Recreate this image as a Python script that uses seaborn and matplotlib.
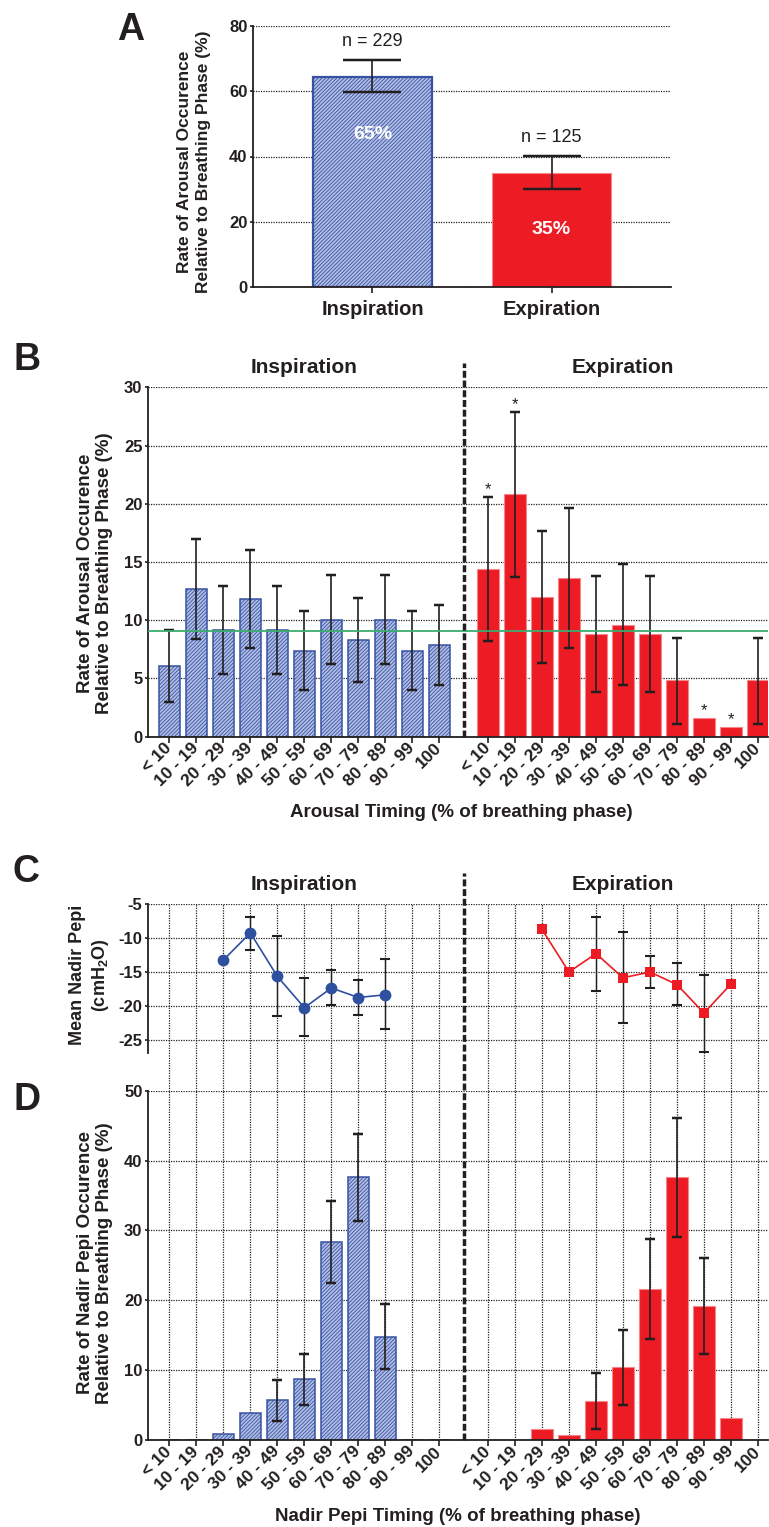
import numpy as np
import pandas as pd
import matplotlib
matplotlib.use("Agg")
import matplotlib.pyplot as plt
import seaborn as sns

nan = np.nan

# ---------------- data ----------------
phases = ["Inspiration", "Expiration"]
overall_rate = [64.4, 35.0]
overall_lo = [59.6, 30.2]
overall_hi = [69.5, 40.2]
overall_n = ["n = 229", "n = 125"]
overall_pct = ["65%", "35%"]

timing_bins = ["< 10", "10 - 19", "20 - 29", "30 - 39", "40 - 49", "50 - 59",
               "60 - 69", "70 - 79", "80 - 89", "90 - 99", "100"]

arousal_insp = [6.1, 12.7, 9.2, 11.8, 9.2, 7.4, 10.0, 8.3, 10.0, 7.4, 7.9]
arousal_insp_lo = [3.0, 8.4, 5.4, 7.6, 5.4, 4.0, 6.2, 4.7, 6.2, 4.0, 4.4]
arousal_insp_hi = [9.2, 17.0, 12.9, 16.0, 12.9, 10.8, 13.9, 11.9, 13.9, 10.8, 11.3]
arousal_exp = [14.4, 20.8, 12.0, 13.6, 8.85, 9.6, 8.85, 4.84, 1.63, 0.83, 4.84]
arousal_exp_lo = [8.2, 13.7, 6.3, 7.6, 3.8, 4.4, 3.8, 1.1, nan, nan, 1.1]
arousal_exp_hi = [20.6, 27.9, 17.7, 19.6, 13.8, 14.8, 13.8, 8.5, nan, nan, 8.5]
arousal_exp_significant = [True, True, False, False, False, False, False, False, True, True, False]
arousal_expected = 9.1

pepi_insp = [nan, nan, -13.2, -9.2, -15.6, -20.2, -17.3, -18.7, -18.3, nan, nan]
pepi_insp_lo = [nan, nan, nan, -11.7, -21.4, -24.3, -19.85, -21.2, -23.4, nan, nan]
pepi_insp_hi = [nan, nan, nan, -6.8, -9.6, -15.9, -14.7, -16.2, -13.1, nan, nan]
pepi_exp = [nan, nan, -8.7, -14.95, -12.25, -15.8, -14.95, -16.8, -21.0, -16.7, nan]
pepi_exp_lo = [nan, nan, nan, nan, -17.7, -22.45, -17.25, -19.85, -26.7, nan, nan]
pepi_exp_hi = [nan, nan, nan, nan, -6.9, -9.0, -12.65, -13.7, -15.4, nan, nan]

nadir_insp = [0, 0, 0.81, 3.86, 5.68, 8.68, 28.4, 37.6, 14.8, 0, 0]
nadir_insp_lo = [nan, nan, nan, nan, 2.67, 5.06, 22.5, 31.3, 10.2, nan, nan]
nadir_insp_hi = [nan, nan, nan, nan, 8.64, 12.35, 34.2, 43.8, 19.5, nan, nan]
nadir_exp = [0, 0, 1.57, 0.76, 5.58, 10.45, 21.6, 37.6, 19.2, 3.2, 0]
nadir_exp_lo = [nan, nan, nan, nan, 1.57, 5.0, 14.4, 29.1, 12.3, nan, nan]
nadir_exp_hi = [nan, nan, nan, nan, 9.6, 15.8, 28.8, 46.1, 26.1, nan, nan]

# ---------------- style ----------------
INK = "#231f20"
BLUE_EDGE = "#3653a3"
BLUE_FACE = "#b3bee4"
BLUE_MARK = "#2f4f9f"
RED = "#ed1c24"
RED_EDGE = "#f3878b"
GREEN = "#3aad6e"
GRID = dict(linestyle=(0, (1, 1)), color="#222222", linewidth=0.9)

sns.set_theme(style="white")
plt.rcParams["font.family"] = ["Liberation Sans", "DejaVu Sans"]
plt.rcParams["mathtext.fontset"] = "custom"
plt.rcParams["mathtext.rm"] = "Liberation Sans:bold"
plt.rcParams["mathtext.bf"] = "Liberation Sans:bold"
plt.rcParams["mathtext.it"] = "Liberation Sans:bold"
plt.rcParams["hatch.linewidth"] = 0.6
plt.rcParams["text.color"] = INK

W, H = 769, 1527
fig = plt.figure(figsize=(W / 100, H / 100), dpi=100)


def add_ax(l, r, t, b):
    return fig.add_axes([l / W, 1 - b / H, (r - l) / W, (b - t) / H])


def base_style(ax, yticks):
    for s in ["top", "right"]:
        ax.spines[s].set_visible(False)
    for s in ["left", "bottom"]:
        ax.spines[s].set_color(INK)
        ax.spines[s].set_linewidth(1.3)
    ax.set_axisbelow(True)
    ax.set_yticks(yticks)
    ax.set_yticklabels([f"{v:g}" for v in yticks], fontsize=12, fontweight="bold", color=INK)
    ax.tick_params(axis="y", direction="out", length=2.5, width=1.2, pad=1.5, colors=INK, left=True)
    ax.yaxis.grid(True, **GRID)
    ax.set_facecolor("none")


def hatch_patches(patches):
    for p in patches:
        p.set_facecolor(BLUE_FACE)
        p.set_edgecolor(BLUE_EDGE)
        p.set_hatch("/////////")
        p.set_linewidth(1.1)


def red_patches(patches):
    for p in patches:
        p.set_facecolor(RED)
        p.set_edgecolor(RED_EDGE)
        p.set_linewidth(0.8)


def errbars(ax, pos, vals, lo, hi, capsize, lw=1.2):
    pos = np.asarray(pos, float)
    v = np.asarray(vals, float)
    lo = np.asarray(lo, float)
    hi = np.asarray(hi, float)
    m = ~np.isnan(lo)
    ax.errorbar(pos[m], v[m], yerr=[v[m] - lo[m], hi[m] - v[m]], fmt="none",
                ecolor=INK, elinewidth=lw, capsize=capsize, capthick=lw * 1.5, zorder=5)


def phase_bars(ax, pos, vals, hatched):
    n0 = len(ax.patches)
    sns.barplot(x=pos, y=vals, native_scale=True, orient="x", color=RED,
                width=0.78, errorbar=None, saturation=1, ax=ax)
    new = ax.patches[n0:]
    if hatched:
        hatch_patches(new)
    else:
        red_patches(new)


ins_pos = np.arange(len(timing_bins), dtype=float)
exp_pos = ins_pos + 11.8
all_pos = np.concatenate([ins_pos, exp_pos])
sep_x = 10.9
XL = (-0.79, 22.17)


def timing_xaxis(ax, labels=True):
    ax.set_xlim(*XL)
    ax.set_xticks(all_pos)
    if labels:
        ax.set_xticklabels(timing_bins * 2, rotation=45, ha="right", va="center",
                           rotation_mode="anchor", fontsize=12.5, fontweight="bold", color=INK)
        ax.tick_params(axis="x", direction="out", length=4, width=1.2, pad=2.5, colors=INK, bottom=True)
    else:
        ax.tick_params(axis="x", length=0, labelbottom=False)
    ax.set_xlabel("")


# ---------------- Panel A ----------------
axA = add_ax(253, 671, 25.7, 287.3)
dfA = pd.DataFrame({"phase": phases, "rate": overall_rate})
sns.barplot(data=dfA, x="phase", y="rate", hue="phase", palette=[BLUE_FACE, RED],
            width=0.66, errorbar=None, saturation=1, legend=False, ax=axA)
hatch_patches(axA.patches[:1])
red_patches(axA.patches[1:2])
axA.patches[0].set_linewidth(1.6)
errbars(axA, [0, 1], overall_rate, overall_lo, overall_hi, capsize=21, lw=1.2)
base_style(axA, [0, 20, 40, 60, 80])
axA.set_ylim(0, 80)
axA.set_xlim(-0.667, 1.667)
axA.set_xticks([0, 1])
axA.set_xticklabels(phases, fontsize=14.5, fontweight="bold", color=INK)
axA.tick_params(axis="x", direction="out", length=4, width=1.2, pad=5, colors=INK, bottom=True)
axA.set_xlabel("")
axA.set_ylabel("Rate of Arousal Occurence\nRelative to Breathing Phase (%)",
               fontsize=12.5, fontweight="bold", va="center", linespacing=1.4, color=INK)
axA.yaxis.set_label_coords(-0.141, 0.48)
for i, (txt, hi) in enumerate(zip(overall_n, overall_hi)):
    axA.annotate(txt, xy=(i, hi), xytext=(0, 10), textcoords="offset points",
                 ha="center", va="baseline", fontsize=13, color=INK)
for i, (txt, ypos) in enumerate(zip(overall_pct, [46.6, 17.8])):
    axA.text(i, ypos, txt, ha="center", va="center", fontsize=14, fontweight="bold",
             color="white", zorder=6)

# ---------------- Panel B ----------------
axB = add_ax(148, 768, 387.3, 736.7)
phase_bars(axB, ins_pos, arousal_insp, True)
phase_bars(axB, exp_pos, arousal_exp, False)
errbars(axB, ins_pos, arousal_insp, arousal_insp_lo, arousal_insp_hi, capsize=3.3)
errbars(axB, exp_pos, arousal_exp, arousal_exp_lo, arousal_exp_hi, capsize=3.3)
axB.axhline(arousal_expected, color=GREEN, lw=1.3, zorder=6)
for i, sig in enumerate(arousal_exp_significant):
    if sig:
        top = np.nanmax([arousal_exp[i], arousal_exp_hi[i]])
        axB.annotate("*", xy=(exp_pos[i], top), xytext=(0, 2), textcoords="offset points",
                     ha="center", va="baseline", fontsize=12, color=INK)
base_style(axB, [0, 5, 10, 15, 20, 25, 30])
axB.set_ylim(0, 30)
timing_xaxis(axB)
axB.axvline(sep_x, ymin=0, ymax=1.07, color=INK, lw=2.5, linestyle=(0, (2.0, 0.8)),
            clip_on=False, zorder=7)
axB.set_ylabel("Rate of Arousal Occurence\nRelative to Breathing Phase (%)",
               fontsize=13.5, fontweight="bold", va="center", linespacing=1.15, color=INK)
axB.yaxis.set_label_coords(-0.0855, 0.468)
axB.set_xlabel("Arousal Timing (% of breathing phase)", fontsize=13.5, fontweight="bold",
               va="top", color=INK)
axB.xaxis.set_label_coords(0.506, -0.193)
for cx, t in [(5, "Inspiration"), (16.8, "Expiration")]:
    axB.text(cx, 1.042, t, transform=axB.get_xaxis_transform(), ha="center",
             va="baseline", fontsize=15, fontweight="bold", color=INK)

# ---------------- Panel C ----------------
axC = add_ax(148, 768, 904.3, 1090.7)
dfCi = pd.DataFrame({"pos": ins_pos, "pepi": pepi_insp}).dropna()
dfCe = pd.DataFrame({"pos": exp_pos, "pepi": pepi_exp}).dropna()
errbars(axC, ins_pos, pepi_insp, pepi_insp_lo, pepi_insp_hi, capsize=3.6, lw=1.0)
errbars(axC, exp_pos, pepi_exp, pepi_exp_lo, pepi_exp_hi, capsize=3.6, lw=1.0)
sns.lineplot(data=dfCi, x="pos", y="pepi", color=BLUE_MARK, marker="o", markersize=8.5,
             markeredgewidth=0, linewidth=1.2, estimator=None, ax=axC, zorder=6)
sns.lineplot(data=dfCe, x="pos", y="pepi", color=RED, marker="s", markersize=7.7,
             markeredgewidth=0, linewidth=1.2, estimator=None, ax=axC, zorder=6)
base_style(axC, [-5, -10, -15, -20, -25])
axC.set_ylim(-32.4, -5)
axC.spines["left"].set_bounds(-26.9, -5)
axC.spines["bottom"].set_visible(False)
timing_xaxis(axC, labels=False)
axC.xaxis.grid(True, **GRID)
axC.set_ylabel("Mean Nadir Pepi\n(cmH$_\\mathbf{2}$O)", fontsize=13, fontweight="bold",
               va="center", linespacing=1.3, color=INK)
axC.yaxis.set_label_coords(-0.0935, 0.62)
for cx, t in [(5, "Inspiration"), (16.8, "Expiration")]:
    axC.text(cx, 1.077, t, transform=axC.get_xaxis_transform(), ha="center",
             va="baseline", fontsize=15, fontweight="bold", color=INK)

# ---------------- Panel D ----------------
axD = add_ax(148, 768, 1090.7, 1440)
phase_bars(axD, ins_pos, nadir_insp, True)
phase_bars(axD, exp_pos, nadir_exp, False)
errbars(axD, ins_pos, nadir_insp, nadir_insp_lo, nadir_insp_hi, capsize=3.5)
errbars(axD, exp_pos, nadir_exp, nadir_exp_lo, nadir_exp_hi, capsize=3.5)
base_style(axD, [0, 10, 20, 30, 40, 50])
axD.set_ylim(0, 50)
timing_xaxis(axD)
axD.xaxis.grid(True, **GRID)
axD.axvline(sep_x, ymin=0, ymax=(1440 - 873) / 349.3, color=INK, lw=2.5,
            linestyle=(0, (2.0, 0.8)), clip_on=False, zorder=7)
axD.set_ylabel("Rate of Nadir Pepi Occurence\nRelative to Breathing Phase (%)",
               fontsize=13.5, fontweight="bold", va="center", linespacing=1.15, color=INK)
axD.yaxis.set_label_coords(-0.0855, 0.507)
axD.set_xlabel("Nadir Pepi Timing (% of breathing phase)", fontsize=13.5, fontweight="bold",
               va="top", color=INK)
axD.xaxis.set_label_coords(0.5, -0.195)

# ---------------- panel letters ----------------
for x, y, t in [(117, 40, "A"), (13, 370, "B"), (13, 882, "C"), (13, 1110, "D")]:
    fig.text(x / W, 1 - y / H, t, fontsize=27, fontweight="bold", ha="left", va="baseline", color=INK)

fig.savefig("out.png", dpi=100)
